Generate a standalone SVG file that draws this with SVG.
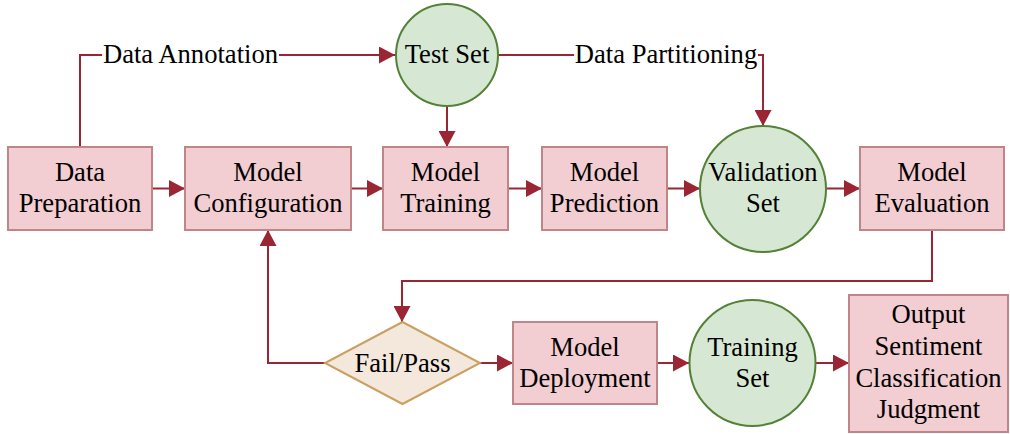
<svg xmlns="http://www.w3.org/2000/svg" width="1010" height="434" viewBox="0 0 1010 434">
<style>
.box{fill:#F2CDD1;stroke:#C08589;stroke-width:2}
.circ{fill:#D6E8D4;stroke:#538135;stroke-width:2}
.dia{fill:#F3E8DB;stroke:#C9A060;stroke-width:2}
.t{font-family:"Liberation Serif","Times New Roman",serif;font-size:26.6px;fill:#000;text-anchor:middle}
.c{fill:none;stroke:#9A2633;stroke-width:2;marker-end:url(#ah)}
.lbl{fill:#fff}
</style>
<defs>
<marker id="ah" markerUnits="userSpaceOnUse" markerWidth="16" markerHeight="17" refX="16" refY="8.5" orient="auto">
<path d="M0,0 L16,8.5 L0,17 z" fill="#9A2633"/>
</marker>
</defs>
<rect width="1010" height="434" fill="#fff"/>
<g id="connectors">
<path class="c" d="M80,147 V55 H395"/>
<path class="c" d="M498,55 H763 V126"/>
<path class="c" d="M447,106 V147"/>
<path class="c" d="M152,188.5 H185"/>
<path class="c" d="M351,188.5 H383"/>
<path class="c" d="M508,188.5 H542"/>
<path class="c" d="M667,188.5 H700"/>
<path class="c" d="M826,188.5 H860"/>
<path class="c" d="M932,230 V281 H402 V322"/>
<path class="c" d="M325,363 H268 V230"/>
<path class="c" d="M480,363 H513"/>
<path class="c" d="M657,363 H689"/>
<path class="c" d="M816,363 H849"/>
<rect class="lbl" x="102" y="40" width="177" height="30"/>
<text class="t" x="190.5" y="63">Data Annotation</text>
<rect class="lbl" x="574" y="40" width="184" height="30"/>
<text class="t" x="666" y="63">Data Partitioning</text>
</g>
<g id="data-preparation">
<rect class="box" x="8" y="147" width="144" height="83"/>
<text class="t" x="80" y="181">Data</text>
<text class="t" x="80" y="212">Preparation</text>
</g>
<g id="model-configuration">
<rect class="box" x="185" y="147" width="166" height="83"/>
<text class="t" x="268" y="181">Model</text>
<text class="t" x="268" y="212">Configuration</text>
</g>
<g id="test-set">
<circle class="circ" cx="447" cy="55" r="51"/>
<text class="t" x="447" y="63">Test Set</text>
</g>
<g id="model-training">
<rect class="box" x="383" y="147" width="125" height="83"/>
<text class="t" x="445.5" y="181">Model</text>
<text class="t" x="445.5" y="212">Training</text>
</g>
<g id="model-prediction">
<rect class="box" x="542" y="147" width="125" height="83"/>
<text class="t" x="604.5" y="181">Model</text>
<text class="t" x="604.5" y="212">Prediction</text>
</g>
<g id="validation-set">
<circle class="circ" cx="763" cy="189" r="63"/>
<text class="t" x="763" y="181">Validation</text>
<text class="t" x="763" y="212">Set</text>
</g>
<g id="model-evaluation">
<rect class="box" x="860" y="147" width="144" height="83"/>
<text class="t" x="932" y="181">Model</text>
<text class="t" x="932" y="212">Evaluation</text>
</g>
<g id="fail-pass">
<path class="dia" d="M402.5,322 L480,363 L402.5,404 L325,363 z"/>
<text class="t" x="402.5" y="372">Fail/Pass</text>
</g>
<g id="model-deployment">
<rect class="box" x="513" y="322" width="144" height="82"/>
<text class="t" x="585" y="356">Model</text>
<text class="t" x="585" y="387">Deployment</text>
</g>
<g id="training-set">
<circle class="circ" cx="752.5" cy="363" r="63"/>
<text class="t" x="752.5" y="356">Training</text>
<text class="t" x="752.5" y="387">Set</text>
</g>
<g id="output">
<rect class="box" x="849" y="295" width="159" height="137"/>
<text class="t" x="928.5" y="323">Output</text>
<text class="t" x="928.5" y="355">Sentiment</text>
<text class="t" x="928.5" y="387">Classification</text>
<text class="t" x="928.5" y="418">Judgment</text>
</g>
</svg>
